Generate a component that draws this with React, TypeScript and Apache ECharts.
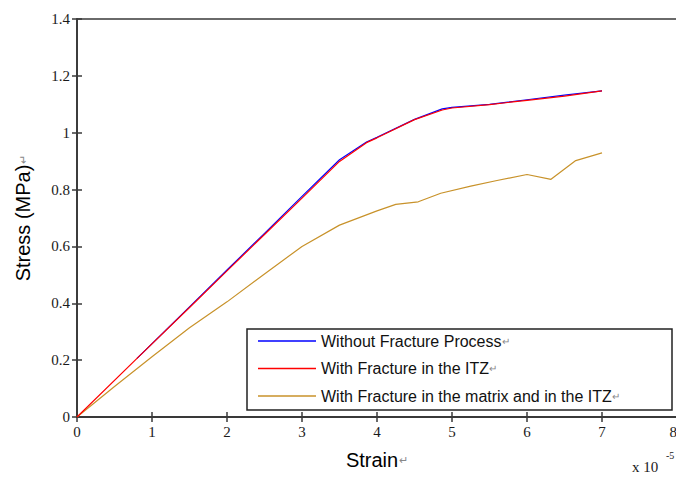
import React, { useEffect, useRef } from "react";
import * as echarts from "echarts";

const seriesNames = [
  "Without Fracture Process",
  "With Fracture in the ITZ",
  "With Fracture in the matrix and in the ITZ",
];

// strain (x 10^-5), stress (MPa)
const withoutFracture: [number, number][] = [
  [0.8, 0.206], [1.5, 0.387], [2.0, 0.517], [2.5, 0.646], [3.0, 0.776],
  [3.5, 0.905], [3.86, 0.967], [4.0, 0.984], [4.5, 1.047], [4.87, 1.084],
  [5.0, 1.089], [5.5, 1.1], [6.0, 1.116], [6.5, 1.132], [7.0, 1.147],
];
const withFractureITZ: [number, number][] = [
  [0, 0], [0.8, 0.206], [1.5, 0.385], [2.0, 0.514], [2.5, 0.642], [3.0, 0.77],
  [3.5, 0.899], [3.86, 0.965], [4.0, 0.982], [4.5, 1.046], [4.87, 1.08],
  [5.0, 1.087], [5.5, 1.099], [6.0, 1.114], [6.5, 1.129], [7.0, 1.147],
];
const withFractureMatrix: [number, number][] = [
  [0, 0], [0.5, 0.107], [1.0, 0.212], [1.5, 0.314], [2.0, 0.405], [2.5, 0.503],
  [3.0, 0.6], [3.5, 0.675], [4.0, 0.725], [4.25, 0.748], [4.55, 0.757],
  [4.85, 0.787], [5.25, 0.812], [5.6, 0.832], [6.0, 0.853], [6.32, 0.836],
  [6.65, 0.902], [7.0, 0.929],
];

const seriesColors = ["#0000ff", "#ff0000", "#c8922a"];

export default function App() {
  const ref = useRef<HTMLDivElement>(null);
  useEffect(() => {
    if (!ref.current) return;
    const chart = echarts.init(ref.current, undefined, { renderer: "svg" });
    const serif = "'Liberation Serif', 'Times New Roman', serif";
    const sans = "'Liberation Sans', Arial, sans-serif";
    const frame = "#3a3a3a";
    const tickLabel = { fontFamily: serif, fontSize: 15, color: "#1a1a1a" };
    const rich = {
      t: { fontFamily: sans, fontSize: 20, color: "#000" },
      r: { fontFamily: sans, fontSize: 11, color: "#888", padding: [0, 0, 0, 1] },
    };
    chart.setOption({
      animation: false,
      backgroundColor: "#fff",
      grid: {
        left: 77, top: 19, right: -1, bottom: 60, show: true,
        borderColor: frame, borderWidth: 1.5,
        containLabel: false, outerBoundsMode: "none",
      },
      xAxis: [
        {
          type: "value", min: 0, max: 8, interval: 1, position: "bottom",
          axisLine: { show: true, lineStyle: { color: frame, width: 2 } },
          axisTick: { show: true, inside: true, length: 5, lineStyle: { color: frame, width: 1.5 } },
          axisLabel: { ...tickLabel, margin: 7, alignMaxLabel: "right" },
          splitLine: { show: false },
          name: "{t|Strain}{r|↵}",
          nameLocation: "middle",
          nameGap: 33,
          nameTextStyle: { rich },
        },
        {
          type: "value", min: 0, max: 8, interval: 1, position: "top",
          axisLine: { show: true, lineStyle: { color: frame, width: 1.5 } },
          axisTick: { show: true, inside: true, length: 5, lineStyle: { color: frame, width: 1.5 } },
          axisLabel: { show: false },
          splitLine: { show: false },
        },
      ],
      yAxis: [
        {
          type: "value", min: 0, max: 1.4, interval: 0.2, position: "left",
          axisLine: { show: true, lineStyle: { color: frame, width: 1.5 } },
          axisTick: { show: true, inside: true, length: 5, lineStyle: { color: frame, width: 1.5 } },
          axisLabel: { ...tickLabel, margin: 7 },
          splitLine: { show: false },
          name: "{t|Stress (MPa)}{r|↵}",
          nameLocation: "middle",
          nameGap: 44,
          nameRotate: 90,
          nameTextStyle: { rich },
        },
        {
          type: "value", min: 0, max: 1.4, interval: 0.2, position: "right",
          axisLine: { show: true, lineStyle: { color: frame, width: 1.5 } },
          axisTick: { show: true, inside: true, length: 5, lineStyle: { color: frame, width: 1.5 } },
          axisLabel: { show: false },
          splitLine: { show: false },
        },
      ],
      legend: {
        left: 247,
        top: 329,
        orient: "vertical",
        padding: [3, 0, 5, 11],
        icon: "rect",
        itemWidth: 58,
        itemHeight: 1.5,
        itemGap: 9.5,
        data: seriesNames,
        formatter: (n: string) => `{t|${n}}{r|↵}`,
        textStyle: {
          lineHeight: 18,
          rich: {
            t: { fontFamily: sans, fontSize: 16, color: "#111" },
            r: { fontFamily: sans, fontSize: 10, color: "#888" },
          },
        },
      },
      graphic: [
        {
          type: "rect",
          shape: { x: 247, y: 329, width: 425, height: 81 },
          style: { fill: "none", stroke: "#222", lineWidth: 1.5 },
          z: 100,
        },
        {
          type: "text",
          x: 632, y: 459,
          style: { text: "x 10", fontFamily: serif, fontSize: 15, fill: "#1a1a1a" },
        },
        {
          type: "text",
          x: 666, y: 450,
          style: { text: "-5", fontFamily: serif, fontSize: 10, fill: "#1a1a1a" },
        },
      ],
      series: [
        { name: seriesNames[0], type: "line", data: withoutFracture, symbol: "none", z: 3,
          lineStyle: { color: seriesColors[0], width: 1.2 }, itemStyle: { color: seriesColors[0] } },
        { name: seriesNames[1], type: "line", data: withFractureITZ, symbol: "none", z: 4,
          lineStyle: { color: seriesColors[1], width: 1.2 }, itemStyle: { color: seriesColors[1] } },
        { name: seriesNames[2], type: "line", data: withFractureMatrix, symbol: "none", z: 2,
          lineStyle: { color: seriesColors[2], width: 1.2 }, itemStyle: { color: seriesColors[2] } },
      ],
    });
    return () => chart.dispose();
  }, []);
  return <div ref={ref} style={{ position: "absolute", left: 0, top: 0, width: 676, height: 477 }} />;
}
